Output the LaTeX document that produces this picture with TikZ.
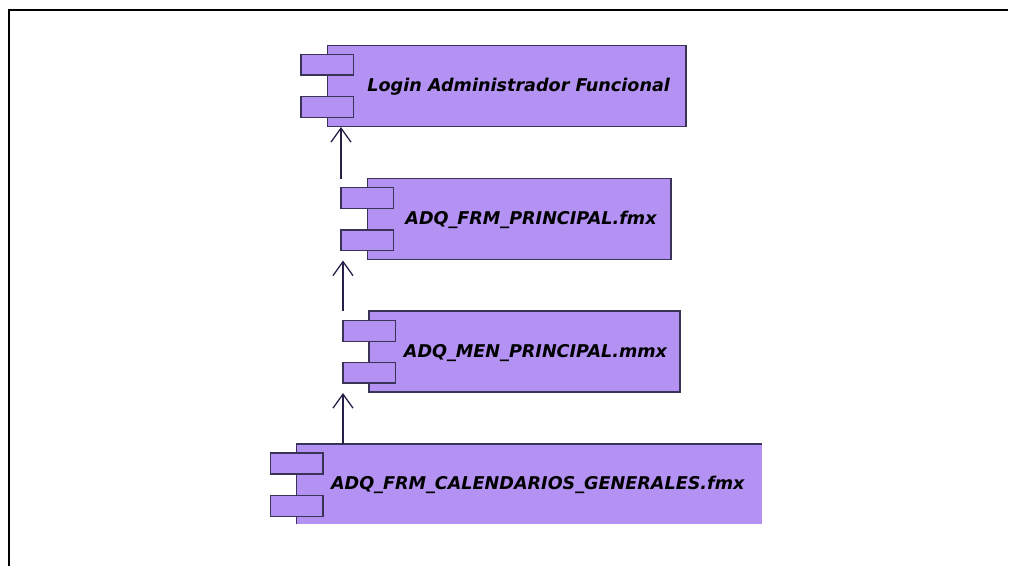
\documentclass[tikz,border=0pt]{standalone}
\usepackage{fontspec}
\usetikzlibrary{arrows.meta,calc}
\newfontfamily\compfont{DejaVu Sans}
\definecolor{compfill}{HTML}{B492F3}
\definecolor{compedge}{HTML}{3A3358}
\definecolor{depline}{HTML}{262049}
\tikzset{
  comp/.style={rectangle, fill=compfill, draw=compedge, line width=1.5pt,
    minimum height=81pt, inner sep=0pt, outer sep=0pt},
  comptab/.style={rectangle, fill=compfill, draw=compedge, line width=1.5pt,
    minimum width=52.5pt, minimum height=20.7pt, inner sep=0pt, outer sep=0pt},
  complabel/.style={font=\compfont\bfseries\itshape\fontsize{17.6}{21}\selectfont,
    text height=12.8pt, text depth=0pt, inner sep=0pt, text=black},
  dep/.style={draw=depline, line width=1.4pt,
    -{Straight Barb[length=14pt, width=20pt, line width=1.3pt]}},
  frameline/.style={line width=2pt, black},
}
\begin{document}
\begin{tikzpicture}[x=1pt, y=-1pt]
  % page extent
  \useasboundingbox (0,0) rectangle (1010,566);
  \fill[white] (0,0) rectangle (1010,566);
  % frame edges
  \coordinate (fa) at (9,566);
  \coordinate (fb) at (9,10);
  \coordinate (fc) at (1008,10);
  \draw[frameline] (fa) -- (fb) -- (fc);

  % Login Administrador Funcional
  \node[comp, minimum width=358.7pt] (login) at (506.7,86.2) {};
  \node[comptab] (logint1) at (327.3,64.7) {};
  \node[comptab] (logint2) at (327.3,107) {};
  \node[complabel] (loginl) at (518.7,85) {Login Administrador Funcional};

  % ADQ_FRM_PRINCIPAL.fmx
  \node[comp, minimum width=303.7pt] (frm) at (519.2,218.8) {};
  \node[comptab] (frmt1) at (367.3,198) {};
  \node[comptab] (frmt2) at (367.3,240.3) {};
  \node[complabel] (frml) at (531,218.3) {ADQ\_FRM\_PRINCIPAL.fmx};

  % ADQ_MEN_PRINCIPAL.mmx
  \node[comp, minimum width=311pt] (men) at (524.5,351.7) {};
  \node[comptab] (ment1) at (369,331) {};
  \node[comptab] (ment2) at (369,372.7) {};
  \node[complabel] (menl) at (535.5,350.7) {ADQ\_MEN\_PRINCIPAL.mmx};

  % ADQ_FRM_CALENDARIOS_GENERALES.fmx (open on the right and bottom)
  \coordinate (calnw) at (296.7,444);
  \coordinate (calse) at (762,524.3);
  \coordinate (calsw) at (296.7,524.3);
  \coordinate (calne) at (762,444);
  \fill[compfill] (calnw) rectangle (calse);
  \draw[compedge, line width=1.5pt] (calsw) -- (calnw) -- (calne);
  \node[comptab] (calt1) at (296.7,463.5) {};
  \node[comptab] (calt2) at (296.7,506) {};
  \node[complabel] (call) at (537.8,483.3) {ADQ\_FRM\_CALENDARIOS\_GENERALES.fmx};

  % dependencies
  \coordinate (d1s) at (341,179);
  \coordinate (d1e) at (341,127);
  \coordinate (d2s) at (343,311);
  \coordinate (d2e) at (343,260.5);
  \coordinate (d3s) at (343,444);
  \coordinate (d3e) at (343,393);
  \draw[dep] (d1s) -- (d1e);
  \draw[dep] (d2s) -- (d2e);
  \draw[dep] (d3s) -- (d3e);
\end{tikzpicture}
\end{document}
